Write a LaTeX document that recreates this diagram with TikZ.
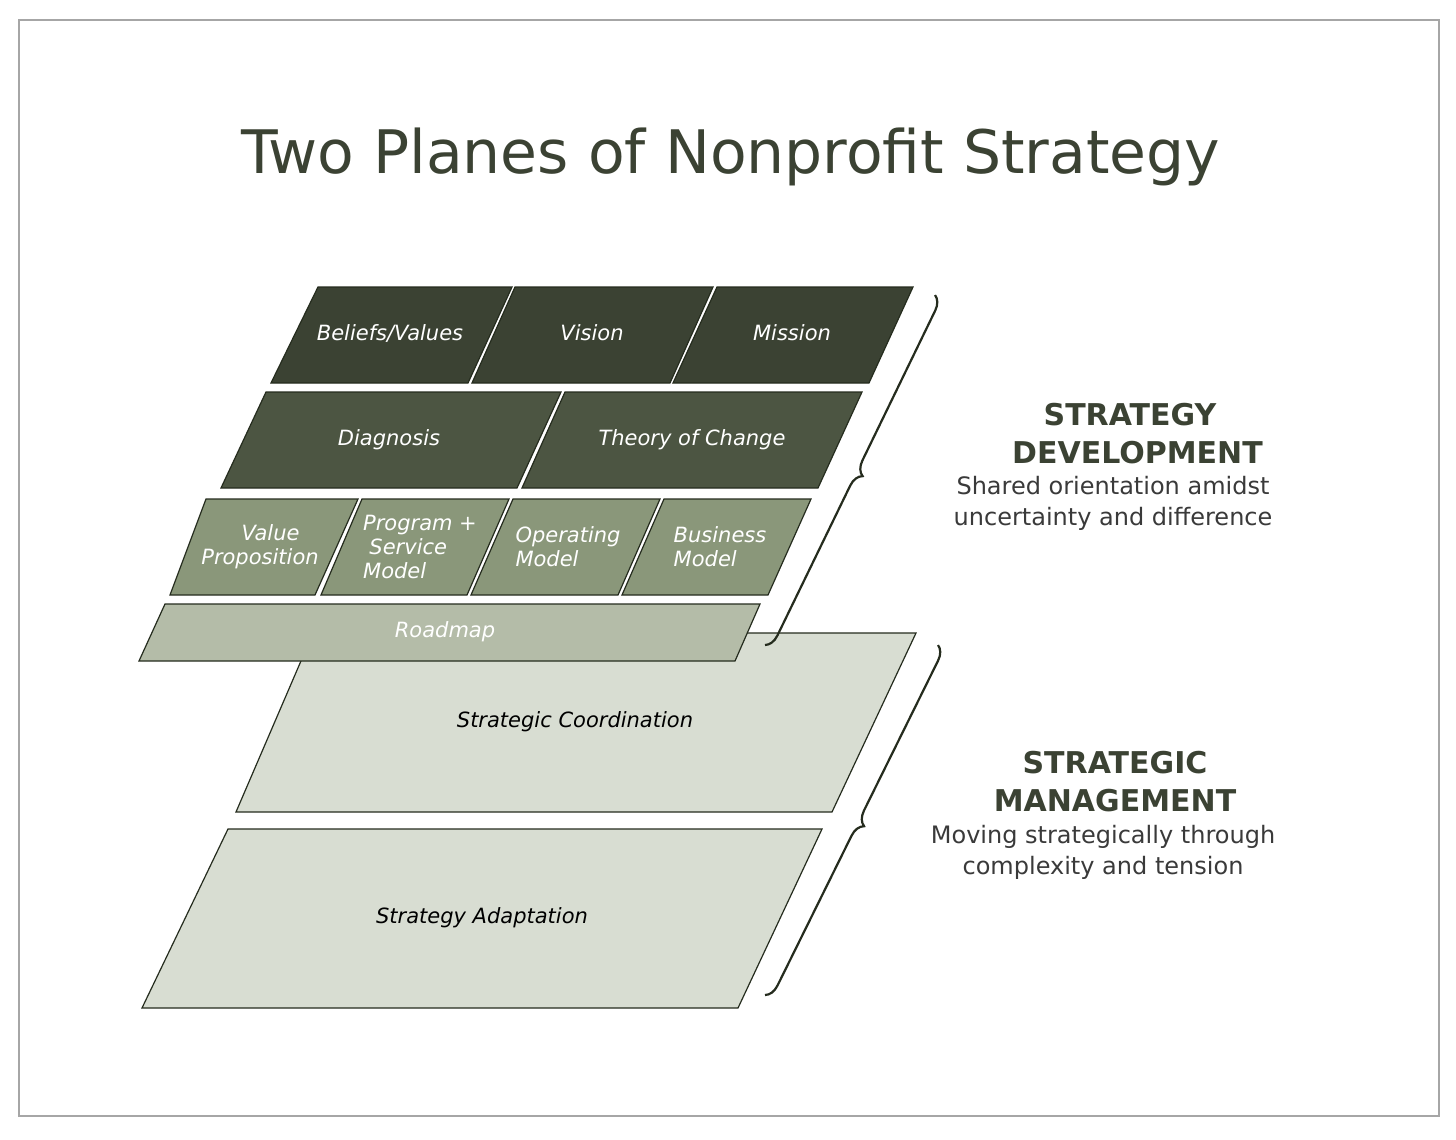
\documentclass[tikz,border=0pt]{standalone}
\usepackage{fontspec}
\setmainfont{DejaVu Sans}
\usetikzlibrary{decorations.pathreplacing}
\definecolor{cA}{HTML}{3B4233}
\definecolor{cB}{HTML}{4C5542}
\definecolor{cC}{HTML}{8A977A}
\definecolor{cD}{HTML}{B4BCA8}
\definecolor{cE}{HTML}{D8DDD2}
\definecolor{ln}{HTML}{252C1E}
\definecolor{tx}{HTML}{3A3A3A}
\tikzset{tile/.style={draw=ln,line width=1.2pt},
 wt/.style={text=white,font=\fontsize{21}{24}\selectfont\itshape,align=left},
 dt/.style={text=black,font=\fontsize{21}{24}\selectfont\itshape},
 hd/.style={text=cA,font=\fontsize{30}{38}\selectfont\bfseries,align=center},
 sb/.style={text=tx,font=\fontsize{24}{31}\selectfont,align=center}}
\begin{document}
\begin{tikzpicture}[x=1pt,y=-1pt]
\fill[white] (0,0) rectangle (1456,1140);
\useasboundingbox (0,0) rectangle (1456,1140);
\draw[gray!70,line width=1.2pt] (19,20) rectangle (1439,1116);
\node[text=cA,font=\fontsize{60}{70}\selectfont] (title) at (731,157) {Two Planes of Nonprofit Strategy};
% lower planes
\draw[tile,fill=cE] (313,633)--(916,633)--(832,812)--(236,812)--cycle;
\node[dt] (sc) at (575,722) {Strategic Coordination};
\draw[tile,fill=cE] (228,829)--(822,829)--(738,1008)--(142,1008)--cycle;
\node[dt] (sa) at (482,918) {Strategy Adaptation};
% row 1
\draw[tile,fill=cA] (318,287)--(512,287)--(468,383)--(271,383)--cycle;
\draw[tile,fill=cA] (515,287)--(713,287)--(670,383)--(472,383)--cycle;
\draw[tile,fill=cA] (717,287)--(913,287)--(869,383)--(673,383)--cycle;
\node[wt] (bv) at (390,333) {Beliefs/Values};
\node[wt] (vi) at (592,333) {Vision};
\node[wt] (mi) at (792,333) {Mission};
% row 2
\draw[tile,fill=cB] (266,392)--(561,392)--(517,488)--(221,488)--cycle;
\draw[tile,fill=cB] (565,392)--(862,392)--(818,488)--(522,488)--cycle;
\node[wt] (dg) at (389,440) {Diagnosis};
\node[wt] (tc) at (692,440) {Theory of Change};
% row 3
\draw[tile,fill=cC] (206,499)--(358,499)--(315,595)--(170,595)--cycle;
\draw[tile,fill=cC] (362,499)--(509,499)--(467,595)--(321,595)--cycle;
\draw[tile,fill=cC] (513,499)--(660,499)--(618,595)--(471,595)--cycle;
\draw[tile,fill=cC] (664,499)--(811,499)--(768,595)--(622,595)--cycle;
\node[wt,align=center] (vp) at (260,547) {\hspace*{1em}Value\\Proposition};
\node[wt] (ps) at (420,547) {Program +\\\hspace*{0.3em}Service\\Model};
\node[wt] (om) at (568,547) {Operating\\Model};
\node[wt] (bm) at (720,547) {Business\\Model};
% roadmap
\draw[tile,fill=cD] (165,604)--(760,604)--(735,661)--(139,661)--cycle;
\node[wt] (rm) at (445,632) {Roadmap};
% braces
\coordinate (b1s) at (765,645); \coordinate (b1e) at (935,295);
\coordinate (b2s) at (765,995); \coordinate (b2e) at (938,645);
\draw[ln,line width=2.2pt,decorate,decoration={brace,amplitude=14pt,mirror}] (b1s)--(b1e);
\draw[ln,line width=2.2pt,decorate,decoration={brace,amplitude=14pt,mirror}] (b2s)--(b2e);
% right text
\node[hd] (h1) at (1130,434) {STRATEGY\\\hspace*{0.5em}DEVELOPMENT};
\node[sb] (s1) at (1113,503) {Shared orientation amidst\\uncertainty and difference};
\node[hd] (h2) at (1115,782) {STRATEGIC\\MANAGEMENT};
\node[sb] (s2) at (1103,852) {Moving strategically through\\complexity and tension};
\end{tikzpicture}
\end{document}
